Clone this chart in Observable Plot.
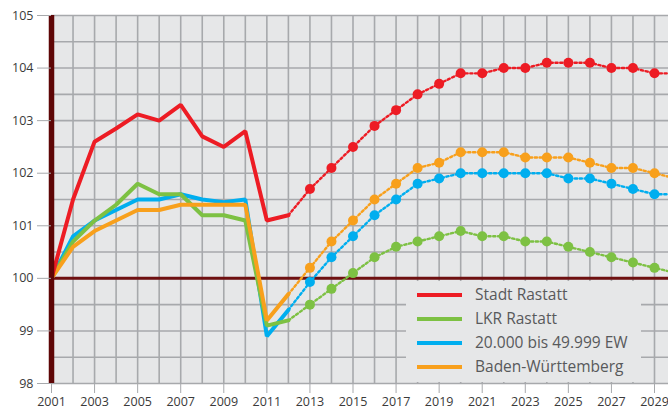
<!DOCTYPE html>
<html>
<head>
<meta charset="utf-8">
<script src="https://cdn.jsdelivr.net/npm/d3@7"></script>
<script src="https://cdn.jsdelivr.net/npm/@observablehq/plot@0.6"></script>
<style>
  html, body { margin: 0; padding: 0; background: #fff; }
  #wrap { position: relative; width: 668px; height: 409px; overflow: hidden; }
  #legend { position: absolute; left: 406px; top: 281px; width: 235px; height: 101px; background: #e6e7e8; }
  .item { position: absolute; left: 0; height: 24px; display: flex; align-items: center; }
  .sw { position: absolute; left: 11px; width: 45px; height: 4px; }
  .lab { position: absolute; left: 69px; white-space: nowrap; font-family: "Open Sans", sans-serif; font-size: 15.5px; color: #58595b; line-height: 1; }
</style>
</head>
<body>
<div id="wrap"></div>
<script>
// ---- data ----
const series = ["Stadt Rastatt", "LKR Rastatt", "20.000 bis 49.999 EW", "Baden-Württemberg"];
const colors = ["#ed1c24", "#7dc143", "#00aeef", "#f8a01c"];

const histYears = [2001, 2002, 2003, 2004, 2005, 2006, 2007, 2008, 2009, 2010, 2011, 2012];
const stadtHist = [100, 101.5, 102.6, 102.85, 103.12, 103.0, 103.3, 102.7, 102.5, 102.8, 101.1, 101.2];
const lkrHist   = [100, 100.7, 101.1, 101.4, 101.8, 101.6, 101.6, 101.2, 101.2, 101.1, 99.1, 99.2];
const ewHist    = [100, 100.8, 101.1, 101.3, 101.5, 101.5, 101.6, 101.5, 101.45, 101.5, 98.9, 99.4];
const bwHist    = [100, 100.6, 100.9, 101.1, 101.3, 101.3, 101.4, 101.4, 101.4, 101.4, 99.2, 99.7];

const fcYears = [2013, 2014, 2015, 2016, 2017, 2018, 2019, 2020, 2021, 2022, 2023, 2024, 2025, 2026, 2027, 2028, 2029, 2030];
const stadtFc = [101.7, 102.1, 102.5, 102.9, 103.2, 103.5, 103.7, 103.9, 103.9, 104.0, 104.0, 104.1, 104.1, 104.1, 104.0, 104.0, 103.9, 103.9];
const lkrFc   = [99.5, 99.8, 100.1, 100.4, 100.6, 100.7, 100.8, 100.9, 100.8, 100.8, 100.7, 100.7, 100.6, 100.5, 100.4, 100.3, 100.2, 100.1];
const ewFc    = [99.93, 100.4, 100.8, 101.2, 101.5, 101.8, 101.9, 102.0, 102.0, 102.0, 102.0, 102.0, 101.9, 101.9, 101.8, 101.7, 101.6, 101.6];
const bwFc    = [100.2, 100.7, 101.1, 101.5, 101.8, 102.1, 102.2, 102.4, 102.4, 102.4, 102.3, 102.3, 102.3, 102.2, 102.1, 102.1, 102.0, 101.9];

const xTickLabels = [2001, 2003, 2005, 2007, 2009, 2011, 2013, 2015, 2017, 2019, 2021, 2023, 2025, 2027, 2029];
const yTickLabels = [98, 99, 100, 101, 102, 103, 104, 105];
const gridYears = [2001, 2002, 2003, 2004, 2005, 2006, 2007, 2008, 2009, 2010, 2011, 2012, 2013, 2014, 2015, 2016, 2017, 2018, 2019, 2020, 2021, 2022, 2023, 2024, 2025, 2026, 2027, 2028, 2029];
const gridValues = [98, 98.5, 99, 99.5, 100, 100.5, 101, 101.5, 102, 102.5, 103, 103.5, 104, 104.5, 105];

// ---- build tables ----
const hist = [stadtHist, lkrHist, ewHist, bwHist];
const fc = [stadtFc, lkrFc, ewFc, bwFc];
const drawOrder = [2, 1, 3, 0];

function histRows(i) {
  return histYears.map((y, j) => ({year: y, value: hist[i][j], series: series[i]}));
}
function fcRows(i) {
  const rows = [{year: histYears[histYears.length - 1], value: hist[i][hist[i].length - 1], series: series[i]}];
  fcYears.forEach((y, j) => rows.push({year: y, value: fc[i][j], series: series[i]}));
  return rows;
}
function dotRows(i) {
  return fcYears.map((y, j) => ({year: y, value: fc[i][j], series: series[i]}));
}

const gridStyle = {stroke: "#a7a9ac", strokeOpacity: 1, strokeWidth: 1.6};

const marks = [
  Plot.frame({fill: "#e6e7e8", stroke: null}),
  Plot.gridX(gridYears, gridStyle),
  Plot.gridY(gridValues, gridStyle),
  Plot.ruleY([100], {stroke: "#6e1010", strokeWidth: 3})
];
drawOrder.forEach(i => {
  marks.push(Plot.line(fcRows(i), {x: "year", y: "value", stroke: "series", strokeWidth: 2.4, strokeDasharray: "2.2,2.6", clip: true}));
  marks.push(Plot.dot(dotRows(i), {x: "year", y: "value", fill: "series", r: 5, clip: true}));
});
drawOrder.forEach(i => {
  marks.push(Plot.line(histRows(i), {x: "year", y: "value", stroke: "series", strokeWidth: 4, strokeLinejoin: "miter"}));
});
marks.push(Plot.ruleX([2001], {y1: 98, y2: 105, stroke: "#5e0606", strokeWidth: 5.5}));
marks.push(Plot.axisY(yTickLabels, {tickSize: 14, tickPadding: 4, stroke: "#a7a9ac", fill: "#3a3a3a", fontSize: 12.5, tickFormat: d => String(d), label: null}));
marks.push(Plot.axisX(xTickLabels, {tickSize: 10, tickPadding: 4, stroke: "#a7a9ac", fill: "#3a3a3a", fontSize: 12.5, tickFormat: d => String(d), label: null}));

const chart = Plot.plot({
  width: 668,
  height: 409,
  marginLeft: 51,
  marginRight: 0,
  marginTop: 15,
  marginBottom: 26,
  x: {domain: [2001, 2029.65], label: null},
  y: {domain: [98, 105], label: null},
  color: {domain: series, range: colors},
  style: {fontFamily: "'Open Sans', sans-serif", background: "white", overflow: "hidden"},
  marks
});
const wrap = document.getElementById("wrap");
wrap.appendChild(chart);

// ---- legend ----
const legend = document.createElement("div");
legend.id = "legend";
series.forEach((s, i) => {
  const item = document.createElement("div");
  item.className = "item";
  item.style.top = (2 + i * 24) + "px";
  item.innerHTML = `<span class="sw" style="background:${colors[i]}"></span><span class="lab">${s}</span>`;
  legend.appendChild(item);
});
wrap.appendChild(legend);
</script>
</body>
</html>
